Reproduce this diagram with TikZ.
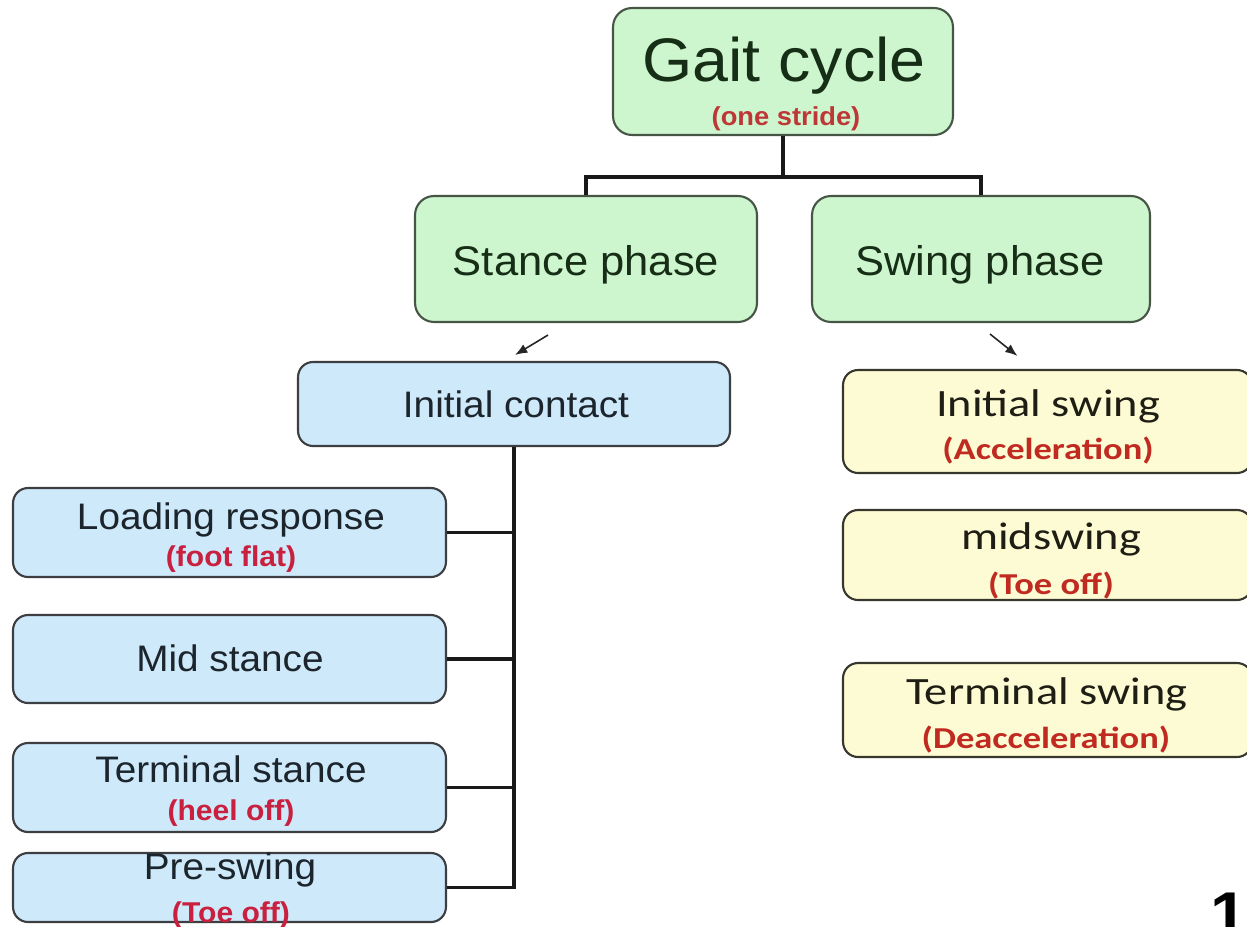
\documentclass[tikz,border=0pt]{standalone}
\usepackage{fontspec}
\setmainfont[FakeStretch=1.05]{Liberation Sans}
\newfontfamily\calib[FakeStretch=1.2]{Carlito}
\usetikzlibrary{calc,arrows.meta}
\definecolor{gfill}{RGB}{206,246,206}
\definecolor{bfill}{RGB}{206,233,250}
\definecolor{yfill}{RGB}{253,251,212}
\definecolor{gbord}{RGB}{70,85,70}
\definecolor{bbord}{RGB}{60,62,66}
\definecolor{ybord}{RGB}{55,55,45}
\definecolor{gtxt}{RGB}{22,45,22}
\definecolor{btxt}{RGB}{28,36,44}
\definecolor{ytxt}{RGB}{30,30,20}
\definecolor{redl}{RGB}{200,32,62}
\definecolor{redr}{RGB}{192,42,32}
\definecolor{redt}{RGB}{190,55,55}
\begin{document}
\begin{tikzpicture}[x=0.02cm,y=-0.02cm,
  box/.style={draw, line width=1.2pt, inner sep=0pt},
  gbox/.style={box, draw=gbord, fill=gfill, rounded corners=0.38cm},
  bbox/.style={box, draw=bbord, fill=bfill, rounded corners=0.3cm, minimum width=8.66cm},
  ybox/.style={box, draw=ybord, fill=yfill, rounded corners=0.3cm, minimum width=8.18cm},
  ttl/.style={anchor=base, inner sep=0pt},
  gt/.style={ttl, text=gtxt},
  bt/.style={ttl, text=btxt, font=\fontsize{21}{25}\selectfont},
  yt/.style={ttl, text=ytxt, font=\calib\fontsize{22}{26}\selectfont},
  bsub/.style={ttl, text=redl, font=\bfseries\fontsize{16.3}{19}\selectfont},
  ysub/.style={ttl, text=redr, font=\calib\bfseries\fontsize{17.3}{20}\selectfont},
  link/.style={line width=2pt, draw=black!90},
  arr/.style={line width=0.9pt, draw=black!85, -{Latex[length=7pt,width=5.5pt]}}
]
\useasboundingbox (0,0) rectangle (1247,926);
\clip (0,0) rectangle (1247,926);
\fill[white] (0,0) rectangle (1247,926);

% top level
\node[gbox, minimum width=6.8cm, minimum height=2.54cm] (gait) at (783,71.5) {};
\node[gt, font=\fontsize{35}{40}\selectfont] (gaitT) at (784,82) {Gait cycle};
\node[ttl, text=redt, font=\bfseries\fontsize{14.8}{17}\selectfont] (gaitS) at (786,126) {(one stride)};

\node[gbox, minimum width=6.84cm, minimum height=2.52cm] (stance) at (586,259) {};
\node[gt, font=\fontsize{23.6}{28}\selectfont] (stanceT) at (586,275) {Stance phase};
\node[gbox, minimum width=6.76cm, minimum height=2.52cm] (swing) at (981,259) {};
\node[gt, font=\fontsize{23.6}{28}\selectfont] (swingT) at (980,275) {Swing phase};

\coordinate (j) at (783,177);
\draw[link] (gait.south) -- (j);
\draw[link] (stance.north) |- (j) -| (swing.north);

% stance branch
\node[box, draw=bbord, fill=bfill, rounded corners=0.3cm, minimum width=8.64cm, minimum height=1.68cm] (ic) at (514,404) {};
\node[bt] (icT) at (516,417) {Initial contact};

\node[bbox, minimum height=1.78cm] (lr) at (229.5,532.5) {};
\node[bt] (lrT) at (231,529) {Loading response};
\node[bsub] (lrS) at (231,566) {(foot flat)};

\node[bbox, minimum height=1.76cm] (ms) at (229.5,659) {};
\node[bt] (msT) at (230,671) {Mid stance};

\node[bbox, minimum height=1.78cm] (ts) at (229.5,787.5) {};
\node[bt] (tsT) at (231,782) {Terminal stance};
\node[bsub] (tsS) at (231,820) {(heel off)};

\node[bbox, minimum height=1.38cm] (ps) at (229.5,887.5) {};
\node[bt] (psT) at (230,879) {Pre-swing};
\node[bsub] (psS) at (231,922) {(Toe off)};

\draw[link] (ic.south) |- (ps.east);
\draw[link] (lr.east) -- (lr.east -| ic.south);
\draw[link] (ms.east) -- (ms.east -| ic.south);
\draw[link] (ts.east) -- (ts.east -| ic.south);

% swing branch
\node[ybox, minimum height=2.06cm] (is) at (1047.5,421.5) {};
\node[yt] (isT) at (1048,416) {Initial swing};
\node[ysub] (isS) at (1048,459) {(Acceleration)};

\node[ybox, minimum height=1.8cm] (mid) at (1047.5,555) {};
\node[yt] (midT) at (1051,549) {midswing};
\node[ysub] (midS) at (1051,594) {(Toe off)};

\node[ybox, minimum height=1.88cm] (tsw) at (1047.5,710) {};
\node[yt] (tswT) at (1047,704) {Terminal swing};
\node[ysub] (tswS) at (1046,748) {(Deacceleration)};

% arrows
\draw[arr] ($(stance.south)+(-38,12)$) -- ($(ic.north)+(1,-6)$);
\draw[arr] ($(swing.south)+(9,11)$) -- ($(is.north)+(-30,-13)$);

% page number
\node[anchor=north, inner sep=0pt, font=\bfseries\fontsize{36}{40}\selectfont] (pg) at (1229,893) {1};
\end{tikzpicture}
\end{document}
